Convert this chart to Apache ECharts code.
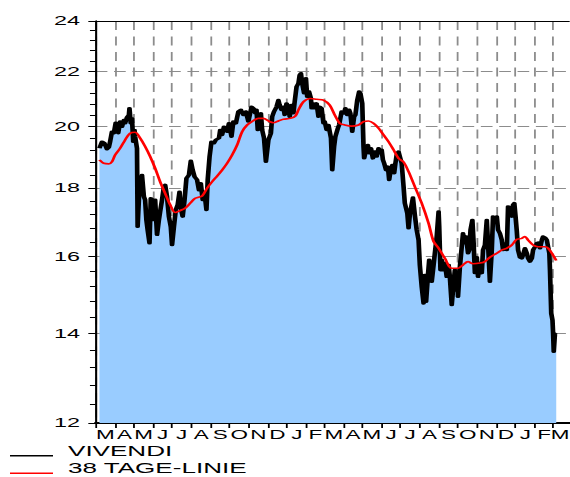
<!DOCTYPE html>
<html>
<head>
<meta charset="utf-8">
<script src="https://cdn.jsdelivr.net/npm/echarts@6/dist/echarts.min.js"></script>
<style>
html,body{margin:0;padding:0;background:#fff;overflow:hidden}
#wrap{width:570px;height:477px;overflow:hidden}
/* the original picture is stretched sideways, so the chart is drawn narrow and widened */
#main{width:317px;height:477px;transform:scaleX(1.7981);transform-origin:0 0}
</style>
</head>
<body>
<div id="wrap"><div id="main"></div></div>
<script>
// x = days after 2010-03-01, y = price
var priceDays = [6,10,14,18,21,23,26,29,32,36,39,42,45,47,50,53,54,56,58,60,62,63,66,67,70,72,74,77,79,81,83,86,88,91,93,95,98,101,103,106,109,111,114,117,120,122,125,128,131,134,136,139,142,145,149,152,155,158,162,165,168,171,174,177,179,182,185,189,192,197,199,202,205,210,213,217,220,224,228,232,236,240,244,249,252,255,257,259,261,264,266,269,272,276,280,282,285,289,292,294,297,300,302,305,308,310,313,316,318,321,324,326,328,330,333,336,338,341,344,345,348,350,353,356,358,361,364,366,369,372,376,378,381,383,387,389,393,397,399,402,405,407,410,413,415,418,421,423,426,428,429,432,435,437,440,443,446,449,452,454,457,459,461,464,467,469,471,474,477,479,481,484,486,489,492,494,498,500,502,507,510,513,516,518,521,524,526,528,531,533,535,537,540,542,545,548,549,551,553,556,558,561,564,566,569,572,574,576,578,579,582,585,587,590,592,595,597,599,602,604,606,609,611,614,617,619,622,625,627,630,633,635,638,641,643,646,649,651,654,657,659,662,665,667,669,671,673,675,678,681,683,686,689,691,694,697,699,702,705,707,710,713,715,718,721,723,725,726,728,730,731,732,734,736]
var priceVals = [19.27,19.49,19.44,19.24,19.30,19.49,19.83,19.78,20.14,19.78,20.18,20.00,20.23,20.12,20.33,20.41,20.65,20.12,20.29,19.49,19.89,19.66,19.27,16.83,18.04,17.93,18.40,17.73,17.63,17.03,16.74,16.36,17.68,17.63,17.03,17.63,16.60,17.03,17.28,17.63,18.04,18.09,17.73,17.13,16.83,16.31,16.83,17.33,17.48,17.88,17.38,17.13,17.63,18.30,18.40,18.86,18.56,18.35,18.25,17.93,18.14,17.63,17.83,17.33,18.25,19.00,19.49,19.44,19.55,19.61,19.89,19.72,20.00,19.83,20.12,19.66,20.18,20.12,20.53,20.59,20.41,20.53,20.18,20.70,20.65,20.47,20.59,19.89,20.41,20.47,19.89,19.61,18.83,19.55,19.78,20.35,20.53,20.70,20.94,20.76,20.59,20.70,20.41,20.82,20.70,20.35,20.76,20.47,20.88,21.43,21.55,21.87,21.93,21.55,21.19,21.74,21.06,21.25,21.00,20.65,20.82,20.65,20.82,20.35,20.70,20.65,20.12,20.18,19.89,20.06,19.61,18.56,19.33,19.66,19.95,20.06,20.53,20.47,20.65,20.41,20.59,20.47,19.83,20.35,20.41,20.94,21.25,21.19,20.82,19.33,18.94,19.22,19.38,19.11,19.27,18.94,19.16,19.00,19.27,19.11,19.22,18.89,18.78,18.56,18.67,18.25,18.51,18.72,18.46,18.78,19.05,19.16,19.00,18.78,18.04,17.53,17.23,16.79,17.18,17.70,17.18,16.74,16.45,15.76,15.18,14.75,15.49,14.79,15.49,15.90,15.62,15.31,15.76,16.08,16.55,17.28,16.83,15.62,15.90,15.62,15.81,15.44,15.76,15.44,14.71,15.28,15.62,15.08,15.44,14.92,15.70,16.26,16.64,16.36,16.55,16.08,16.17,16.74,17.03,16.36,15.54,15.97,15.44,15.81,15.54,16.17,16.31,17.03,16.36,15.31,16.17,17.13,17.03,17.13,16.74,16.64,16.45,16.17,16.36,16.17,17.43,17.40,17.13,17.48,17.53,17.13,16.70,16.17,15.97,15.94,16.03,16.22,16.08,15.94,15.85,15.94,16.17,16.26,16.36,16.38,16.22,16.45,16.55,16.52,16.45,16.26,16.08,15.62,14.50,14.33,14.01,13.57,14.01,14.02]
var maDays = [6,13,21,26,31,39,47,55,63,71,79,87,95,103,111,119,127,135,143,151,159,170,178,186,194,202,210,218,226,234,242,250,260,268,276,284,292,300,311,319,324,332,343,353,364,374,382,390,398,409,420,428,436,444,452,460,468,476,484,492,500,510,521,532,540,548,558,569,579,587,595,603,614,622,630,641,649,657,665,673,681,686,691,699,707,718,723,729,736]
var maVals = [18.89,18.78,18.76,18.83,19.05,19.27,19.55,19.78,19.81,19.61,19.33,19.00,18.62,18.19,17.83,17.48,17.25,17.31,17.38,17.53,17.68,17.75,17.99,18.19,18.37,18.56,18.78,19.05,19.38,19.83,20.06,20.18,20.29,20.29,20.20,20.14,20.20,20.26,20.29,20.37,20.59,20.88,21.00,20.97,20.94,20.76,20.41,20.12,20.06,20.02,20.06,20.18,20.20,20.12,19.95,19.72,19.49,19.22,18.94,18.82,18.51,18.04,17.53,16.93,16.41,16.22,15.94,15.67,15.67,15.76,15.85,15.79,15.81,15.85,15.97,16.08,16.17,16.22,16.31,16.47,16.50,16.55,16.45,16.31,16.26,16.26,16.22,16.08,15.88]

var monthLetters = ['M','A','M','J','J','A','S','O','N','D','J','F','M','A','M','J','J','A','S','O','N','D','J','F','M']
var yLabels = [12,14,16,18,20,22,24]
var yMinor = [12,12.4,12.8,13.2,13.6,14,14.4,14.8,15.2,15.6,16,16.4,16.8,17.2,17.6,18,18.4,18.8,19.2,19.6,20,20.4,20.8,21.2,21.6,22,22.4,22.8,23.2,23.6,24]

var SX = 1.7981
var FONT = 'Liberation Sans'
var DAY = 86400000
var t0 = Date.UTC(2010, 2, 1)
var xEnd = 756.4

function pairs(days, vals) {
  return days.map(function (d, i) { return [d, vals[i]] })
}

// month borders, and the middle of the shown part of each month (in days after t0)
var monthStarts = [], monthMids = []
for (var i = 0; i < monthLetters.length; i++) {
  var a = (Date.UTC(2010, 2 + i, 1) - t0) / DAY
  var b = Math.min((Date.UTC(2010, 3 + i, 1) - t0) / DAY, xEnd - 3)
  monthStarts.push(a)
  monthMids.push((a + b) / 2)
}

var chart = echarts.init(document.getElementById('main'), null, {renderer: 'svg', width: 317, height: 477})

chart.setOption({
  animation: false,
  backgroundColor: '#fff',
  grid: {left: 95.7 / SX, right: 317 - 569 / SX, top: 21, bottom: 54, containLabel: false, outerBoundsMode: 'none'},
  xAxis: [{
    type: 'value', min: 0, max: xEnd, position: 'bottom',
    axisLine: {show: true, onZero: false, lineStyle: {color: '#000', width: 2}},
    axisTick: {show: true, length: 5, customValues: monthStarts, lineStyle: {color: '#000', width: 1}},
    axisLabel: {
      customValues: monthMids, hideOverlap: false, margin: 7.3, lineHeight: 10,
      showMinLabel: true, showMaxLabel: true,
      color: '#000', fontSize: 12.5, fontFamily: FONT,
      formatter: function (v) {
        var k = monthMids.indexOf(v)
        return k < 0 ? '' : monthLetters[k]
      }
    },
    splitLine: {show: true, lineStyle: {color: '#8c8c8c', width: 1, type: [9, 6.5]}}
  }, {
    // top frame line
    type: 'value', min: 0, max: xEnd, position: 'top',
    axisLine: {show: true, onZero: false, lineStyle: {color: '#000', width: 1}},
    axisTick: {show: false}, axisLabel: {show: false}, splitLine: {show: false}
  }],
  yAxis: [{
    type: 'log', min: 12, max: 24, position: 'left',
    axisLine: {show: true, onZero: false, lineStyle: {color: '#000', width: 1}},
    axisTick: {show: true, length: 4.1, customValues: yLabels, lineStyle: {color: '#000'}},
    axisLabel: {
      customValues: yLabels, margin: 8.8, color: '#000', fontSize: 13, fontFamily: FONT,
      verticalAlign: 'middle', lineHeight: 11, padding: [0, 0, 11, 0],
      formatter: function (v) { return String(Math.round(v)) }
    },
    splitLine: {show: true, lineStyle: {color: '#8c8c8c', width: 1, type: [6.5, 3.7]}}
  }, {
    // small ticks every 0.4
    type: 'log', min: 12, max: 24, position: 'left',
    axisLine: {show: true, onZero: false, lineStyle: {color: '#000', width: 1}},
    axisTick: {show: true, length: 3.2, customValues: yMinor, lineStyle: {color: '#000'}},
    axisLabel: {show: false}, splitLine: {show: false}
  }],
  series: [{
    name: 'VIVENDI', type: 'line', xAxisIndex: 0, yAxisIndex: 0,
    data: pairs(priceDays, priceVals),
    showSymbol: false, symbol: 'none',
    lineStyle: {color: '#000', width: 2.6, join: 'round'},
    areaStyle: {color: '#99ccff', opacity: 1, origin: 'start'}
  }, {
    name: '38 TAGE-LINIE', type: 'line', xAxisIndex: 0, yAxisIndex: 0,
    data: pairs(maDays, maVals),
    showSymbol: false, symbol: 'none', smooth: 0.3,
    lineStyle: {color: '#ff0000', width: 1.6}
  }],
  graphic: [
    {type: 'line', shape: {x1: 10 / SX, y1: 455.7, x2: 53 / SX, y2: 455.7}, style: {stroke: '#000', lineWidth: 1.5}},
    {type: 'text', x: 68 / SX, y: 450.6, style: {text: 'VIVENDI', fill: '#000', fontSize: 14.5, lineHeight: 11, fontFamily: FONT, verticalAlign: 'middle'}},
    {type: 'line', shape: {x1: 10 / SX, y1: 473.3, x2: 53 / SX, y2: 473.3}, style: {stroke: '#ff0000', lineWidth: 1.5}},
    {type: 'text', x: 68 / SX, y: 467.9, style: {text: '38 TAGE-LINIE', fill: '#000', fontSize: 14.5, lineHeight: 11, fontFamily: FONT, verticalAlign: 'middle'}}
  ]
})
</script>
</body>
</html>
